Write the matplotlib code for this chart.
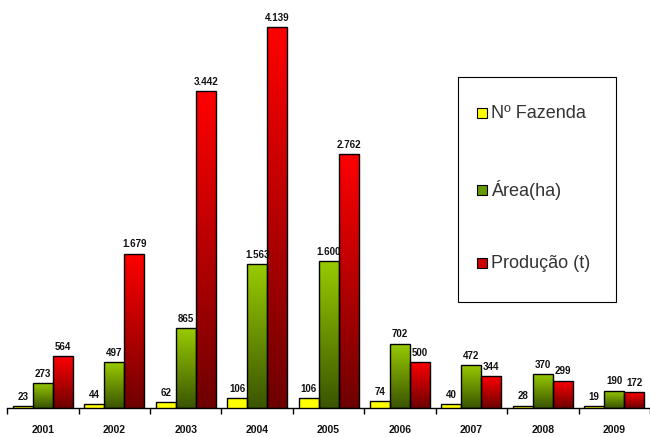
import numpy as np
import matplotlib.pyplot as plt
from matplotlib.colors import LinearSegmentedColormap
from matplotlib.patches import Rectangle

plt.rcParams['font.family'] = ['Liberation Sans', 'DejaVu Sans']

# dados por ano
anos = ['2001', '2002', '2003', '2004', '2005', '2006', '2007', '2008', '2009']
fazendas = [23, 44, 62, 106, 106, 74, 40, 28, 19]
area = [273, 497, 865, 1563, 1600, 702, 472, 370, 190]
producao = [564, 1679, 3442, 4139, 2762, 500, 344, 299, 172]
legenda = ['Nº Fazenda', 'Área(ha)', 'Produção (t)']

# degradê escuro (base) -> claro (topo)
verde = LinearSegmentedColormap.from_list('verde', ['#3a5400', '#99cc00'])
vermelho = LinearSegmentedColormap.from_list('vermelho', ['#6e0000', '#ff0000'])

W, H = 650, 437
fig = plt.figure(figsize=(W / 100, H / 100), dpi=100)
ax = fig.add_axes([0.011, 0.066, 0.989, 0.934])

x = np.arange(len(anos))
w = 0.28
grad = np.linspace(1, 0, 256).reshape(-1, 1)

series = [
    (fazendas, -w, None, '#ffff00'),
    (area, 0, verde, None),
    (producao, w, vermelho, None),
]

for vals, off, cmap, cor in series:
    bars = ax.bar(x + off, vals, w, color=cor if cor else 'none',
                  edgecolor='black', linewidth=1, zorder=3)
    for b, v in zip(bars, vals):
        if cmap is not None:
            x0 = b.get_x()
            im = ax.imshow(grad, extent=[x0, x0 + w, 0, v], aspect='auto',
                           cmap=cmap, zorder=2, interpolation='bilinear')
            im.set_clip_path(b)
        txt = f'{v:,}'.replace(',', '.')
        ax.annotate(txt, (b.get_x() + w / 2, v), xytext=(0, 3),
                    textcoords='offset points', ha='center', va='bottom',
                    fontsize=7, fontweight='bold', color='#111111')

ax.set_xlim(-0.5, 8.5)
ax.set_ylim(0, 4432)

for s in ['left', 'top', 'right']:
    ax.spines[s].set_visible(False)
ax.spines['bottom'].set_linewidth(1)
ax.set_yticks([])
ax.set_xticks(x, anos)
ax.set_xticks(np.arange(-0.5, 9), minor=True)
ax.tick_params(axis='x', which='major', length=0, pad=12, labelsize=7.5)
ax.tick_params(axis='x', which='minor', length=4, width=1, direction='out')
for lb in ax.get_xticklabels():
    lb.set_fontweight('bold')
    lb.set_color('#111111')

# legenda em caixa, posicionada em pixels da figura
fig.add_artist(Rectangle((458 / W, 1 - 302 / H), 158 / W, 225 / H,
                         transform=fig.transFigure, facecolor='white',
                         edgecolor='black', linewidth=0.8, zorder=5))
cores_leg = ['#ffff00', '#669900', '#cc0000']
for nome, cor, yc in zip(legenda, cores_leg, [113, 190, 263]):
    fig.add_artist(Rectangle((477 / W, 1 - (yc + 5) / H), 10 / W, 10 / H,
                             transform=fig.transFigure, facecolor=cor,
                             edgecolor='black', linewidth=0.8, zorder=6))
    fig.text(491 / W, 1 - yc / H, nome, fontsize=13, color='#333333',
             va='center', ha='left', zorder=6)

fig.savefig('out.png', dpi=100)
